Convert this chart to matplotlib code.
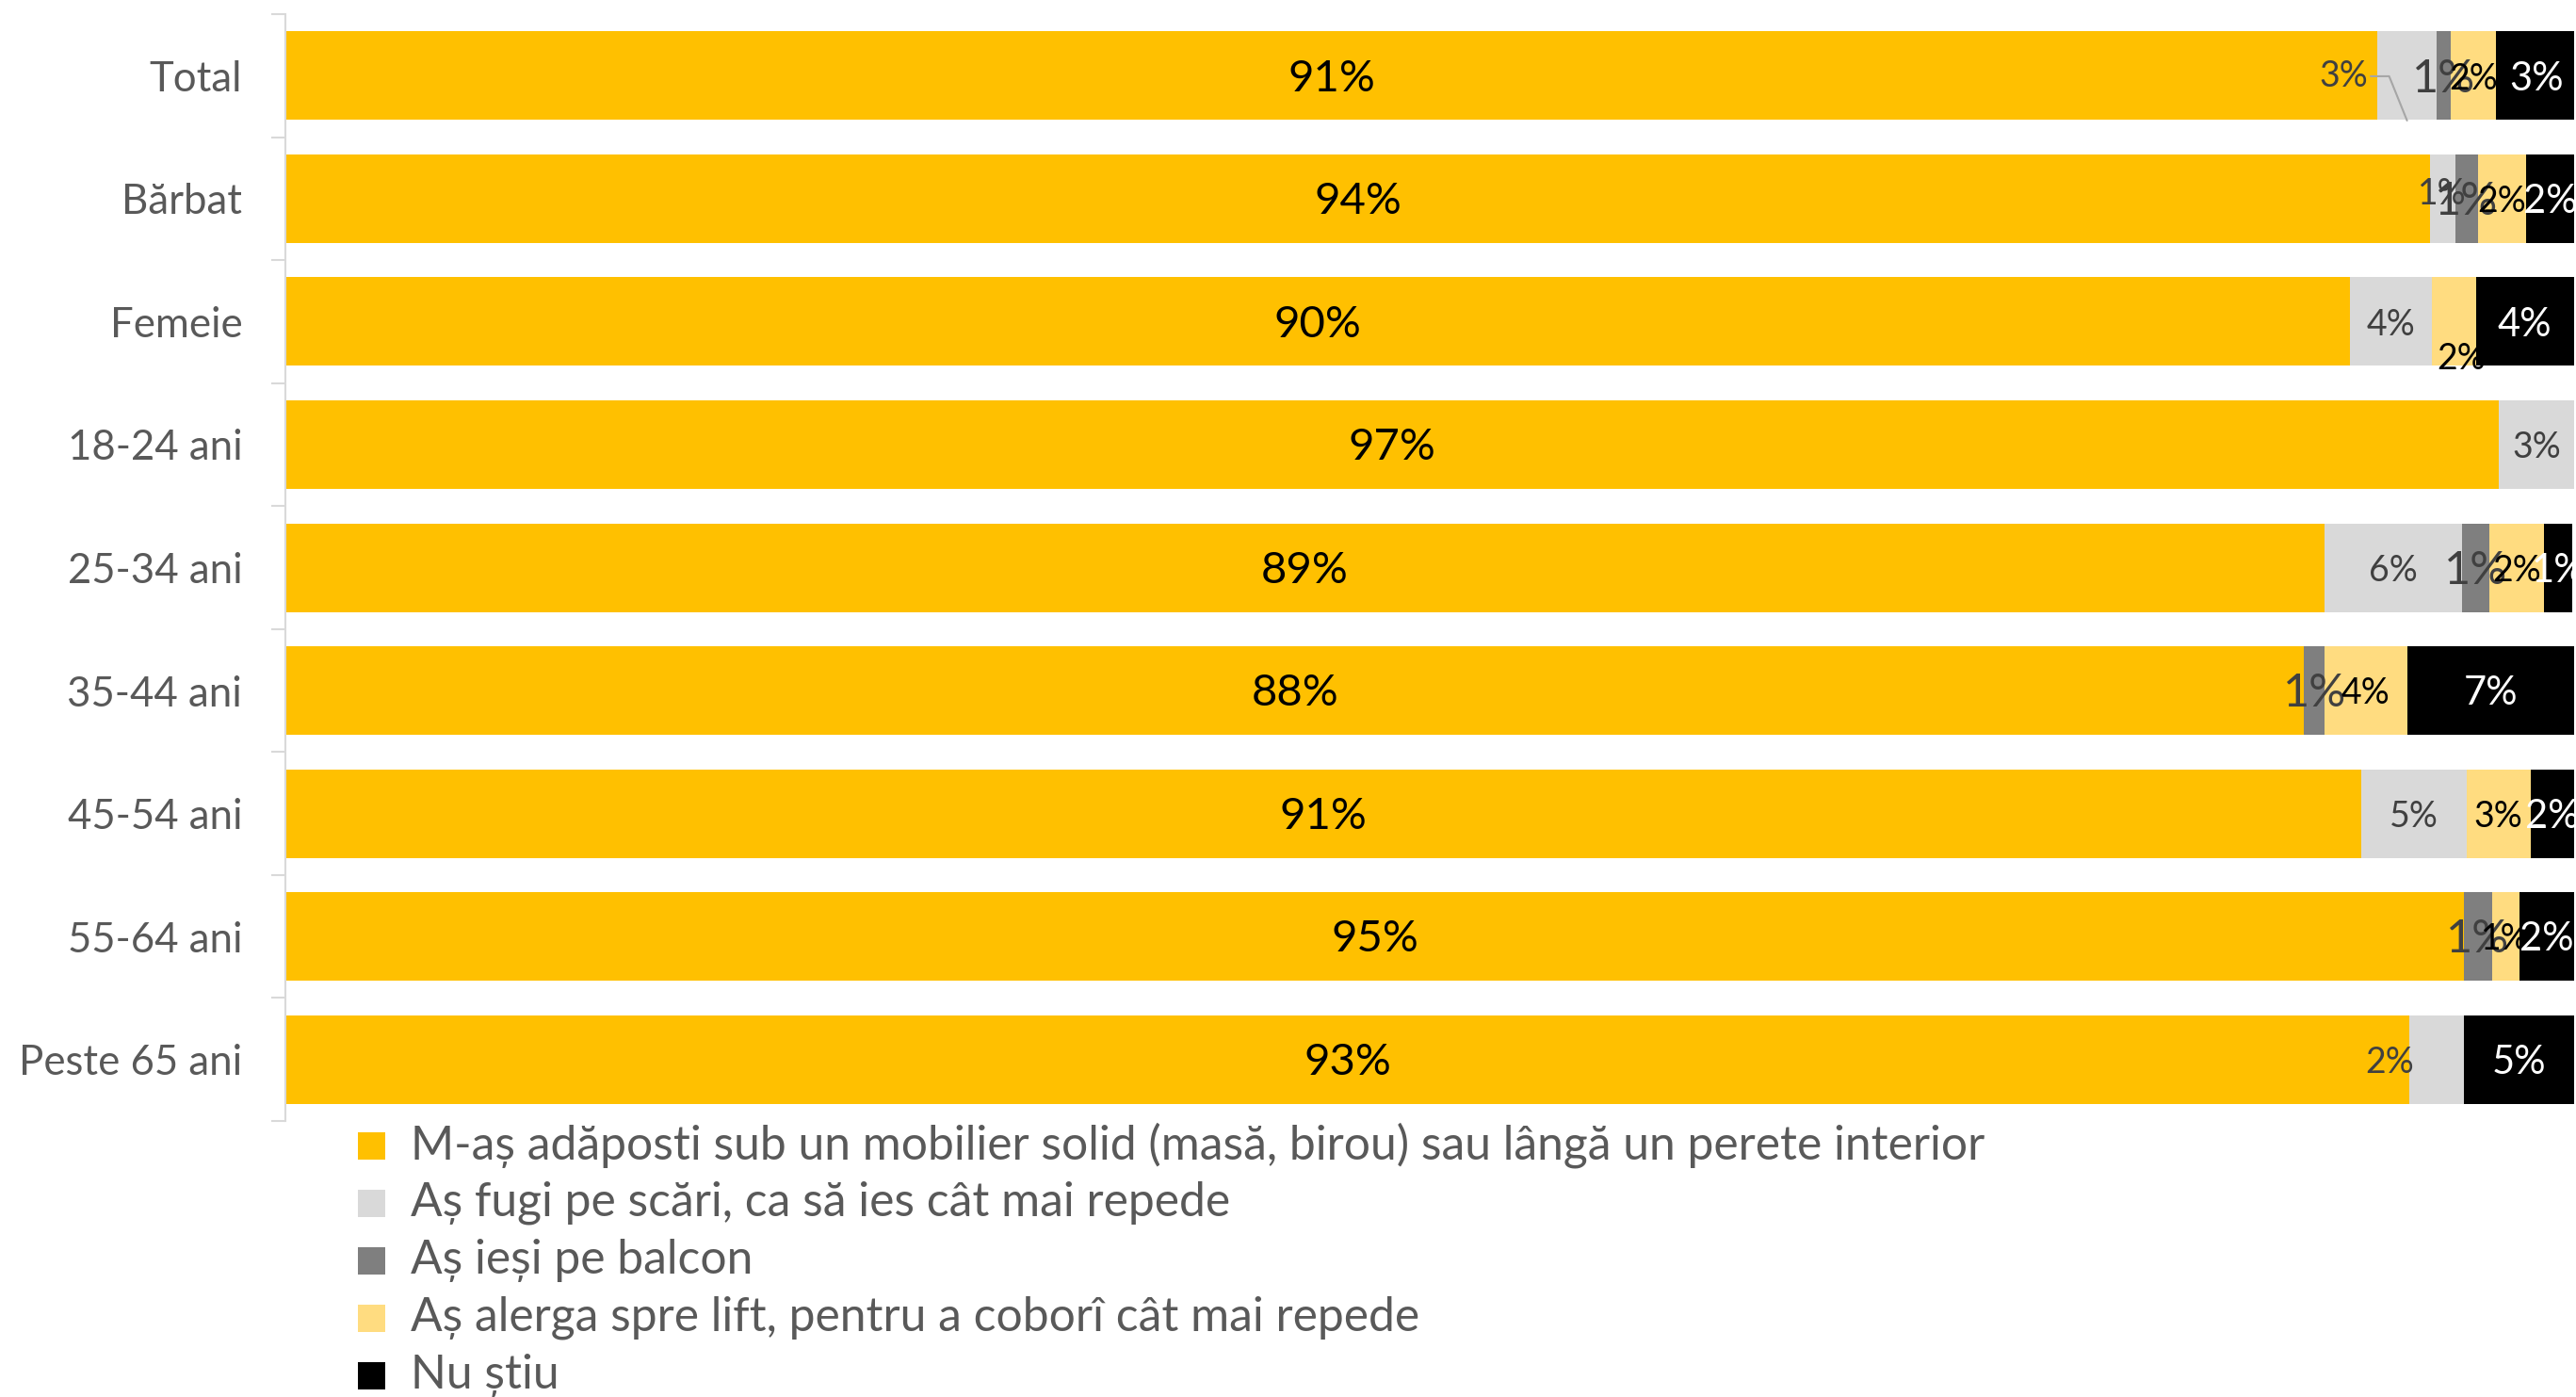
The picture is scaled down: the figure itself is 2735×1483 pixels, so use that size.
import matplotlib
matplotlib.use("Agg")
import matplotlib.pyplot as plt
from matplotlib.patches import Rectangle
import numpy as np

plt.rcParams['font.family'] = ['Lato', 'DejaVu Sans']

categories = ["Total", "Bărbat", "Femeie", "18-24 ani", "25-34 ani",
              "35-44 ani", "45-54 ani", "55-64 ani", "Peste 65 ani"]
series_names = [
    "M-aș adăposti sub un mobilier solid (masă, birou) sau lângă un perete interior",
    "Aș fugi pe scări, ca să ies cât mai repede",
    "Aș ieși pe balcon",
    "Aș alerga spre lift, pentru a coborî cât mai repede",
    "Nu știu",
]
adapost = [91.4, 93.7, 90.2, 96.7, 89.1, 88.2, 90.7, 95.2, 92.8]
scari   = [2.6, 1.1, 3.6, 3.3, 6.0, 0.0, 4.6, 0.0, 2.4]
balcon  = [0.6, 1.0, 0.0, 0.0, 1.2, 0.9, 0.0, 1.2, 0.0]
lift    = [2.0, 2.1, 1.9, 0.0, 2.4, 3.6, 2.8, 1.2, 0.0]
nu_stiu = [3.5, 2.1, 4.3, 0.0, 1.2, 7.3, 1.9, 2.4, 4.8]
label_text = [
    ["91%", "94%", "90%", "97%", "89%", "88%", "91%", "95%", "93%"],
    ["3%", "1%", "4%", "3%", "6%", "", "5%", "", "2%"],
    ["1%", "1%", "", "", "1%", "1%", "", "1%", ""],
    ["2%", "2%", "2%", "", "2%", "4%", "3%", "1%", ""],
    ["3%", "2%", "4%", "", "1%", "7%", "2%", "2%", "5%"],
]

series = [adapost, scari, balcon, lift, nu_stiu]
colors = ["#FFC000", "#D9D9D9", "#7F7F7F", "#FFDC80", "#000000"]
text_colors = ["#000000", "#404040", "#404040", "#000000", "#FFFFFF"]
text_sizes = [34, 27, 35, 27, 30]

W, H = 2735, 1483
fig = plt.figure(figsize=(W / 100, H / 100), dpi=100)
ax = fig.add_axes([303 / W, 1 - 1190 / H, (2733 - 303) / W, (1190 - 15) / H])

y = np.arange(len(categories))
left = np.zeros(len(categories))
for si, vals in enumerate(series):
    vals = np.array(vals, dtype=float)
    ax.barh(y, vals, left=left, height=0.72, color=colors[si], linewidth=0, zorder=2)
    for i in range(len(categories)):
        txt = label_text[si][i]
        if not txt or vals[i] <= 0:
            continue
        cx = left[i] + vals[i] / 2
        cy = y[i] + 0.025
        # adjustments like the original label placement
        if si == 1 and i == 0:
            ax.annotate(txt, xy=(left[i] + vals[i] * 0.5, cy + 0.34),
                        xytext=(left[i] - 0.4, cy - 0.02),
                        ha="right", va="center", fontsize=text_sizes[si],
                        color=text_colors[si], zorder=4,
                        arrowprops=dict(arrowstyle="-", color="#A6A6A6", lw=1.5,
                                        shrinkA=0, shrinkB=0,
                                        connectionstyle="angle,angleA=0,angleB=112,rad=0"))
            continue
        if si == 1 and i == 1:
            cy -= 0.06
        if si == 3 and i == 2:
            cy += 0.28
            cx += 0.3
        if si == 1 and i == 8:
            cx -= 2.05
        ax.text(cx, cy, txt, ha="center", va="center", fontsize=text_sizes[si],
                color=text_colors[si], zorder=4, clip_on=False)
    left += vals

ax.set_xlim(0, 100)
ax.set_ylim(len(categories) - 0.5, -0.5)
ax.set_yticks(y)
ax.set_yticklabels(categories, fontsize=31.5, color="#595959")
ax.set_yticks(np.arange(-0.5, len(categories), 1.0), minor=True)
ax.tick_params(axis="y", which="major", length=0, pad=33)
ax.tick_params(axis="y", which="minor", length=11, width=1.5, color="#D9D9D9", direction="out")
ax.set_xticks([])
for s in ["top", "right", "bottom"]:
    ax.spines[s].set_visible(False)
ax.spines["left"].set_color("#D9D9D9")
ax.spines["left"].set_linewidth(1.5)

# legend
row_y = [1216, 1277, 1338, 1399, 1460]
for i, name in enumerate(series_names):
    yc = row_y[i]
    fig.patches.append(Rectangle((380 / W, 1 - (yc + 14.5) / H), 29 / W, 29 / H,
                                 transform=fig.transFigure, facecolor=colors[i],
                                 edgecolor="none"))
    fig.text(436 / W, 1 - yc / H, name, ha="left", va="center", fontsize=35.8,
             color="#595959")

fig.savefig("out.png", dpi=100)
